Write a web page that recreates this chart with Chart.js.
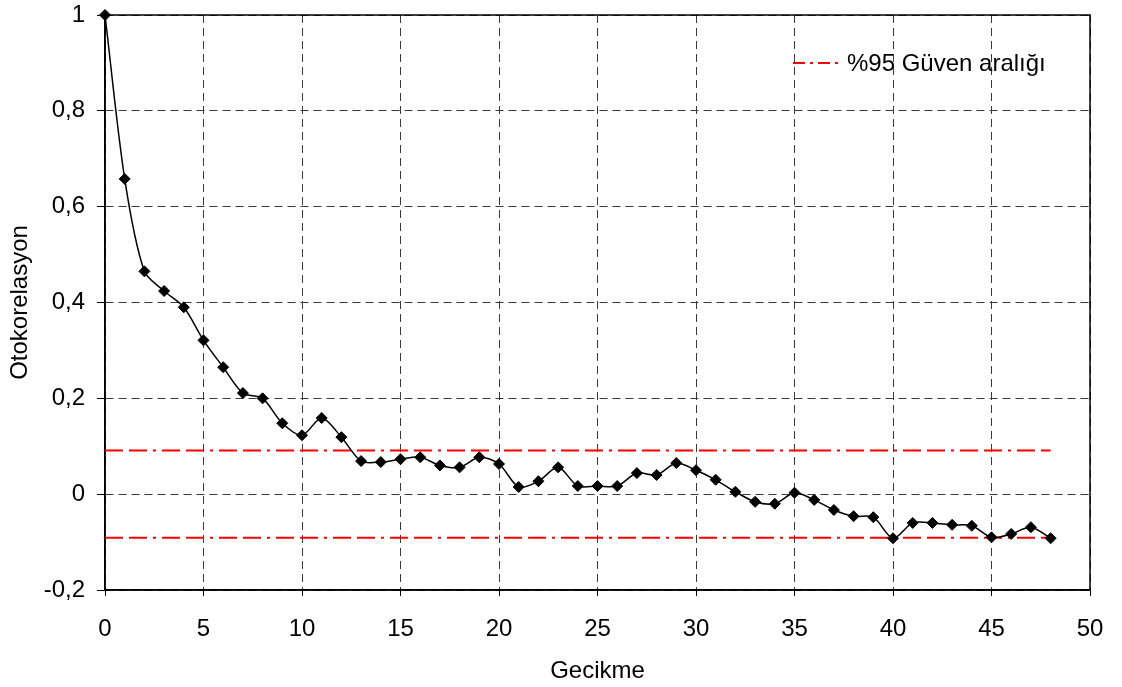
<!DOCTYPE html>
<html>
<head>
<meta charset="utf-8">
<script src="https://cdn.jsdelivr.net/npm/chart.js@4.4.1/dist/chart.umd.min.js"></script>
<style>
  html, body { margin: 0; padding: 0; background: #fff; }
  #wrap { width: 1122px; height: 687px; }
</style>
</head>
<body>
<div id="wrap"><canvas id="c" width="1122" height="687"></canvas></div>
<script>
// Data
const lags = [0,1,2,3,4,5,6,7,8,9,10,11,12,13,14,15,16,17,18,19,20,21,22,23,24,25,26,27,28,29,30,31,32,33,34,35,36,37,38,39,40,41,42,43,44,45,46,47,48];
const acf = [1.000,0.658,0.465,0.424,0.390,0.321,0.265,0.211,0.200,0.148,0.123,0.159,0.119,0.069,0.067,0.073,0.077,0.060,0.056,0.077,0.063,0.015,0.027,0.056,0.017,0.017,0.017,0.044,0.040,0.065,0.050,0.030,0.005,-0.016,-0.020,0.003,-0.012,-0.033,-0.046,-0.048,-0.092,-0.060,-0.060,-0.064,-0.066,-0.090,-0.083,-0.069,-0.092];
const ciUpper = 0.091;
const ciLower = -0.091;
const ciLags = [0, 48];
const yTickLabels = {"1":"1","0.8":"0,8","0.6":"0,6","0.4":"0,4","0.2":"0,2","0":"0","-0.2":"-0,2"};
const legendLabel = "%95 Güven aralığı";
const xTitle = "Gecikme";
const yTitle = "Otokorelasyon";

const FONT = "'Liberation Sans', Arial, sans-serif";
const RED_DASH = [18, 6, 18, 6, 3, 6];
const GRID_DASH = [8, 5];

const acfPoints = lags.map((l, i) => ({x: l, y: acf[i]}));
const upperPoints = ciLags.map(l => ({x: l, y: ciUpper}));
const lowerPoints = ciLags.map(l => ({x: l, y: ciLower}));

const framePlugin = {
  id: 'frame',
  beforeDatasetsDraw(chart) {
    const {ctx, chartArea: a} = chart;
    ctx.save();
    ctx.strokeStyle = '#000';
    ctx.lineWidth = 1.5;
    ctx.setLineDash([]);
    ctx.strokeRect(a.left, a.top, a.right - a.left, a.bottom - a.top);
    ctx.restore();
  },
  afterDraw(chart) {
    // in-plot legend (top right)
    const {ctx, chartArea: a} = chart;
    const ly = a.top + 48;
    const x0 = a.right - 297;
    ctx.save();
    ctx.strokeStyle = '#ff0000';
    ctx.lineWidth = 2;
    ctx.setLineDash([12, 5, 3, 5]);
    ctx.beginPath();
    ctx.moveTo(x0, ly);
    ctx.lineTo(x0 + 45, ly);
    ctx.stroke();
    ctx.setLineDash([]);
    ctx.fillStyle = '#000';
    ctx.font = '24px ' + FONT;
    ctx.textBaseline = 'middle';
    ctx.textAlign = 'left';
    ctx.fillText(legendLabel, x0 + 54, ly + 1);
    ctx.restore();
  }
};

new Chart(document.getElementById('c'), {
  type: 'line',
  data: {
    datasets: [
      {
        label: legendLabel,
        data: upperPoints,
        borderColor: '#ff0000',
        borderWidth: 2,
        borderDash: RED_DASH,
        pointRadius: 0,
        tension: 0,
        order: 2
      },
      {
        label: legendLabel + ' alt',
        data: lowerPoints,
        borderColor: '#ff0000',
        borderWidth: 2,
        borderDash: RED_DASH,
        pointRadius: 0,
        tension: 0,
        order: 2
      },
      {
        label: 'ACF',
        data: acfPoints,
        borderColor: '#000',
        borderWidth: 1.5,
        pointStyle: 'rectRot',
        pointRadius: 5.5,
        pointBackgroundColor: '#000',
        pointBorderColor: '#000',
        pointBorderWidth: 1,
        tension: 0.3,
        clip: false,
        order: 1
      }
    ]
  },
  options: {
    responsive: false,
    animation: false,
    devicePixelRatio: 1,
    layout: { padding: { left: 0, top: 15, right: 32, bottom: 0 } },
    plugins: {
      legend: { display: false },
      tooltip: { enabled: false }
    },
    scales: {
      x: {
        type: 'linear',
        min: 0, max: 50,
        ticks: {
          stepSize: 5,
          color: '#000',
          font: { family: FONT, size: 24 },
          padding: 19
        },
        grid: {
          color: '#3a3a3a',
          lineWidth: 1,
          tickLength: 6,
          tickColor: '#000',
          tickBorderDash: [],
          tickWidth: 1
        },
        border: { display: true, color: '#000', width: 1.5, dash: GRID_DASH },
        title: {
          display: true, text: xTitle, color: '#000',
          font: { family: FONT, size: 24 },
          padding: { top: 0, bottom: 1 }
        },
        afterFit(scale) { scale.height = 97; scale.paddingLeft = 0; scale.paddingRight = 0; }
      },
      y: {
        min: -0.2, max: 1,
        ticks: {
          stepSize: 0.2,
          color: '#000',
          font: { family: FONT, size: 24 },
          padding: 12,
          callback: (v) => {
            const k = String(Math.round(v * 10) / 10);
            return yTickLabels[k] !== undefined ? yTickLabels[k] : k;
          }
        },
        grid: {
          color: '#3a3a3a',
          lineWidth: 1,
          tickLength: 8,
          tickColor: '#000',
          tickBorderDash: [],
          tickWidth: 1
        },
        border: { display: true, color: '#000', width: 1.5, dash: GRID_DASH },
        title: {
          display: true, text: yTitle, color: '#000',
          font: { family: FONT, size: 24 },
          padding: { top: 6, bottom: 4 }
        },
        afterFit(scale) { scale.width = 105; scale.paddingTop = 0; scale.paddingBottom = 0; }
      }
    }
  },
  plugins: [framePlugin]
});
</script>
</body>
</html>
